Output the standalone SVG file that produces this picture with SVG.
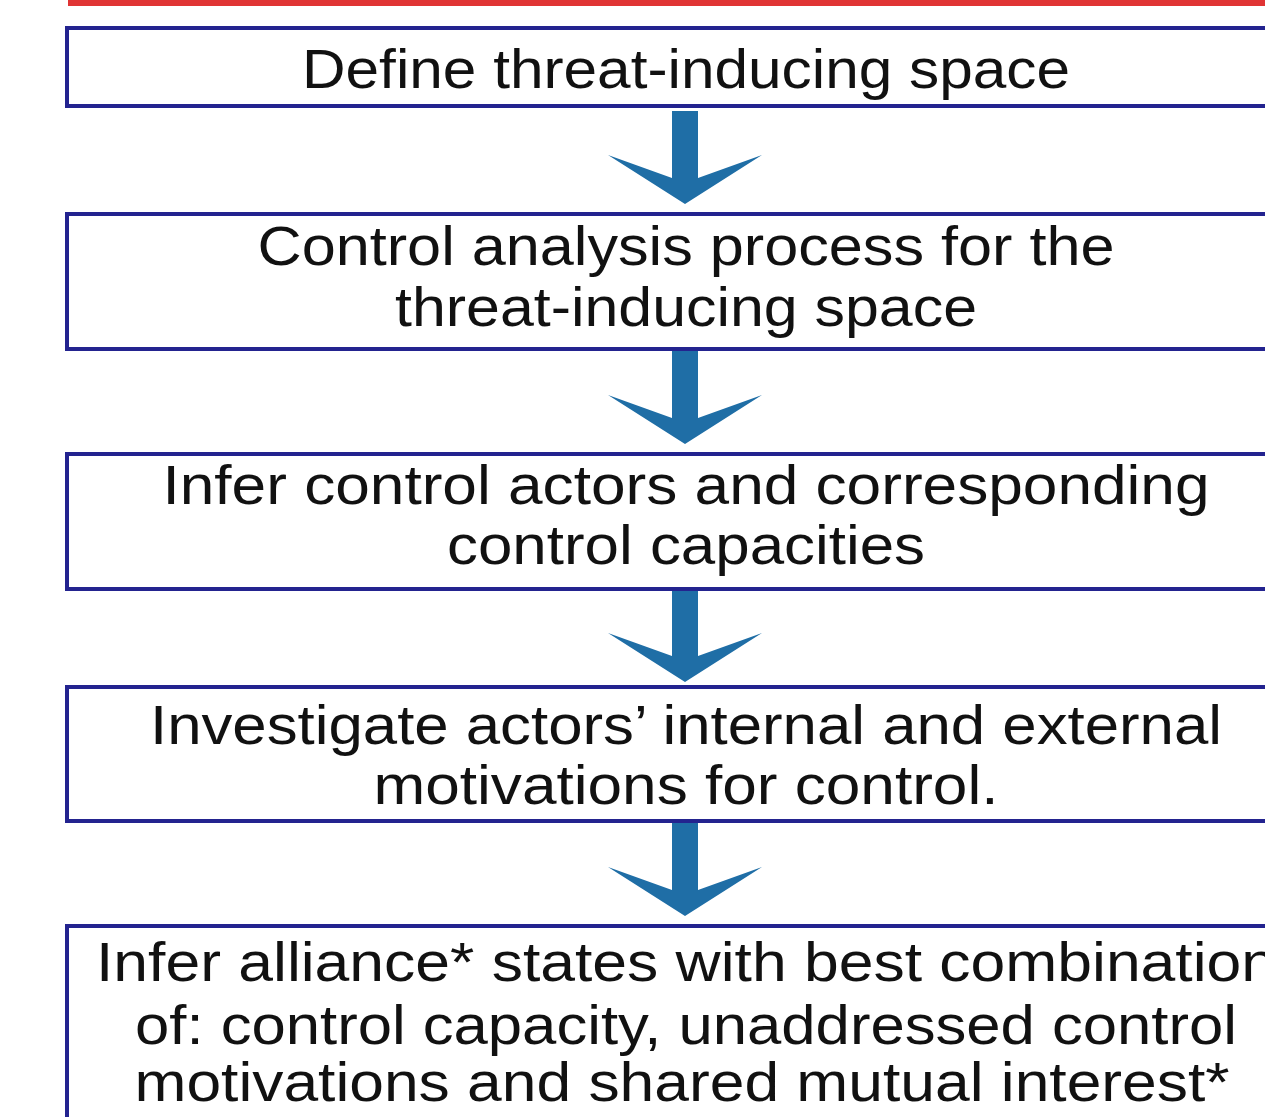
<svg xmlns="http://www.w3.org/2000/svg" width="1265" height="1117" viewBox="0 0 1265 1117">
  <style>
    .box { fill: #ffffff; stroke: #23238f; stroke-width: 4; }
    .lbl { font-family: "Liberation Sans", Arial, sans-serif; font-size: 56px; fill: #111111; text-anchor: middle; }
    .arrow { fill: #1f6ea6; }
  </style>
  <defs>
    <!-- down arrow: shaft with swept-back barbs, origin at shaft top centre -->
    <path id="down" d="M -13 0 L 13 0 L 13 67 L 77 44 L 0 93 L -77 44 L -13 67 Z"/>
  </defs>
  <rect width="1265" height="1117" fill="#ffffff"/>
  <!-- red rule across the top -->
  <rect x="68" y="0" width="1197" height="6" fill="#e03434"/>

  <g id="connectors" class="arrow">
    <use href="#down" x="685" y="111"/>
    <use href="#down" x="685" y="351"/>
    <use href="#down" x="685" y="589"/>
    <use href="#down" x="685" y="823"/>
  </g>

  <g id="step1">
    <rect class="box" x="67" y="28" width="1240" height="78"/>
    <text class="lbl" x="686" y="88" textLength="768" lengthAdjust="spacingAndGlyphs">Define threat-inducing space</text>
  </g>
  <g id="step2">
    <rect class="box" x="67" y="214" width="1240" height="135"/>
    <text class="lbl" x="686" y="265" textLength="857" lengthAdjust="spacingAndGlyphs">Control analysis process for the</text>
    <text class="lbl" x="686" y="326" textLength="582" lengthAdjust="spacingAndGlyphs">threat-inducing space</text>
  </g>
  <g id="step3">
    <rect class="box" x="67" y="454" width="1240" height="135"/>
    <text class="lbl" x="686" y="504" textLength="1047" lengthAdjust="spacingAndGlyphs">Infer control actors and corresponding</text>
    <text class="lbl" x="686" y="564" textLength="478" lengthAdjust="spacingAndGlyphs">control capacities</text>
  </g>
  <g id="step4">
    <rect class="box" x="67" y="687" width="1240" height="134"/>
    <text class="lbl" x="686" y="744" textLength="1072" lengthAdjust="spacingAndGlyphs">Investigate actors’ internal and external</text>
    <text class="lbl" x="686" y="804" textLength="625" lengthAdjust="spacingAndGlyphs">motivations for control.</text>
  </g>
  <g id="step5">
    <rect class="box" x="67" y="926" width="1240" height="240"/>
    <text class="lbl" x="686" y="981" textLength="1180" lengthAdjust="spacingAndGlyphs">Infer alliance* states with best combination</text>
    <text class="lbl" x="686" y="1044" textLength="1102" lengthAdjust="spacingAndGlyphs">of: control capacity, unaddressed control</text>
    <text class="lbl" x="682" y="1101" textLength="1095" lengthAdjust="spacingAndGlyphs">motivations and shared mutual interest*</text>
  </g>
</svg>
